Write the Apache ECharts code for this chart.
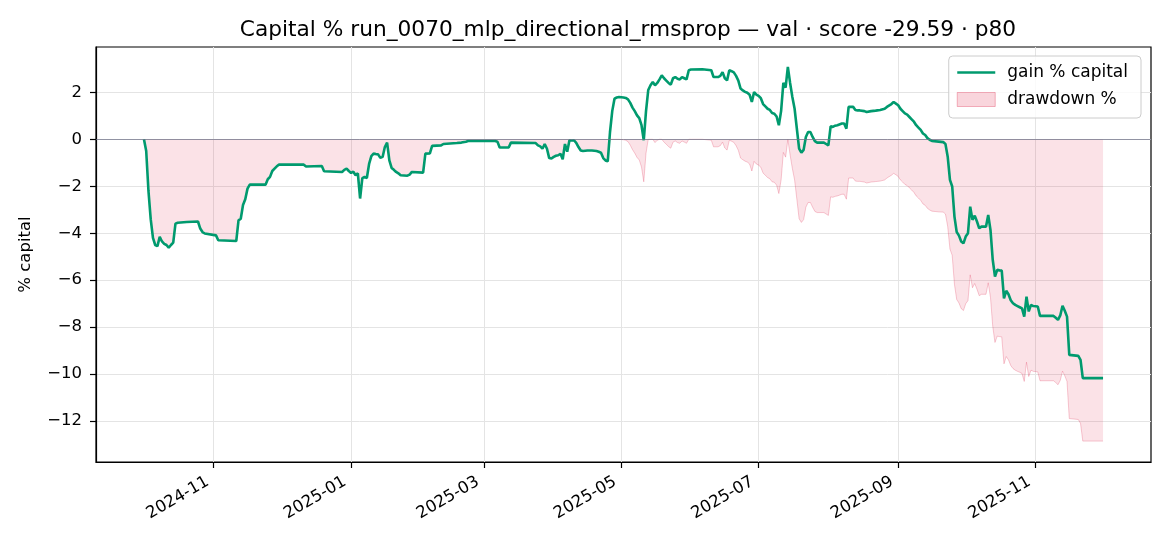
<!DOCTYPE html>
<html>
<head>
<meta charset="utf-8">
<script src="https://cdn.jsdelivr.net/npm/echarts@6/dist/echarts.min.js"></script>
<style>
html,body{margin:0;padding:0;background:#fff;}
#chart{width:1170px;height:546px;}
</style>
</head>
<body>
<div id="chart"></div>
<script>
// ---- data ----
const titleText = 'Capital % run_0070_mlp_directional_rmsprop — val · score -29.59 · p80';
const seriesNames = ['gain % capital', 'drawdown %'];
const yAxisName = '% capital';

const dates = [
'2024-10-01','2024-10-02','2024-10-03','2024-10-04','2024-10-05','2024-10-06','2024-10-07','2024-10-08','2024-10-09','2024-10-10',
'2024-10-11','2024-10-12','2024-10-13','2024-10-14','2024-10-15','2024-10-16','2024-10-20','2024-10-25','2024-10-26','2024-10-27',
'2024-10-28','2024-11-02','2024-11-03','2024-11-11','2024-11-12','2024-11-13','2024-11-14','2024-11-15','2024-11-16','2024-11-17',
'2024-11-24','2024-11-25','2024-11-26','2024-11-27','2024-11-28','2024-11-29','2024-11-30','2024-12-11','2024-12-12','2024-12-19',
'2024-12-20','2024-12-28','2024-12-29','2024-12-30','2024-12-31','2025-01-01','2025-01-02','2025-01-03','2025-01-04','2025-01-05',
'2025-01-06','2025-01-07','2025-01-08','2025-01-09','2025-01-10','2025-01-11','2025-01-12','2025-01-13','2025-01-14','2025-01-15',
'2025-01-16','2025-01-17','2025-01-18','2025-01-19','2025-01-20','2025-01-21','2025-01-22','2025-01-23','2025-01-26','2025-01-27',
'2025-01-28','2025-02-02','2025-02-03','2025-02-05','2025-02-06','2025-02-10','2025-02-11','2025-02-17','2025-02-19','2025-02-21',
'2025-02-22','2025-03-06','2025-03-07','2025-03-08','2025-03-12','2025-03-13','2025-03-24','2025-03-25','2025-03-26','2025-03-27',
'2025-03-28','2025-03-29','2025-03-30','2025-03-31','2025-04-01','2025-04-02','2025-04-03','2025-04-04','2025-04-05','2025-04-06',
'2025-04-07','2025-04-08','2025-04-09','2025-04-10','2025-04-11','2025-04-12','2025-04-13','2025-04-14','2025-04-16','2025-04-18',
'2025-04-20','2025-04-21','2025-04-22','2025-04-23','2025-04-24','2025-04-25','2025-04-26','2025-04-27','2025-04-28','2025-04-29',
'2025-04-30','2025-05-02','2025-05-03','2025-05-04','2025-05-05','2025-05-06','2025-05-07','2025-05-08','2025-05-09','2025-05-10',
'2025-05-11','2025-05-12','2025-05-13','2025-05-14','2025-05-15','2025-05-16','2025-05-17','2025-05-18','2025-05-19','2025-05-20',
'2025-05-21','2025-05-22','2025-05-23','2025-05-24','2025-05-25','2025-05-26','2025-05-27','2025-05-28','2025-05-29','2025-05-30',
'2025-05-31','2025-06-01','2025-06-06','2025-06-10','2025-06-11','2025-06-13','2025-06-14','2025-06-15','2025-06-16','2025-06-17',
'2025-06-18','2025-06-19','2025-06-20','2025-06-21','2025-06-22','2025-06-23','2025-06-24','2025-06-25','2025-06-26','2025-06-27',
'2025-06-28','2025-06-29','2025-06-30','2025-07-01','2025-07-02','2025-07-03','2025-07-04','2025-07-05','2025-07-06','2025-07-07',
'2025-07-08','2025-07-09','2025-07-10','2025-07-11','2025-07-12','2025-07-13','2025-07-14','2025-07-15','2025-07-16','2025-07-17',
'2025-07-18','2025-07-19','2025-07-20','2025-07-21','2025-07-22','2025-07-23','2025-07-24','2025-07-25','2025-07-26','2025-07-27',
'2025-07-30','2025-07-31','2025-08-01','2025-08-02','2025-08-03','2025-08-04','2025-08-05','2025-08-07','2025-08-08','2025-08-09',
'2025-08-10','2025-08-12','2025-08-13','2025-08-14','2025-08-15','2025-08-17','2025-08-18','2025-08-20','2025-08-22','2025-08-24',
'2025-08-26','2025-08-27','2025-08-29','2025-08-30','2025-08-31','2025-09-01','2025-09-02','2025-09-03','2025-09-04','2025-09-05',
'2025-09-06','2025-09-07','2025-09-08','2025-09-09','2025-09-10','2025-09-11','2025-09-12','2025-09-13','2025-09-14','2025-09-15',
'2025-09-16','2025-09-19','2025-09-21','2025-09-22','2025-09-23','2025-09-24','2025-09-25','2025-09-26','2025-09-27','2025-09-28',
'2025-09-29','2025-09-30','2025-10-01','2025-10-02','2025-10-03','2025-10-04','2025-10-05','2025-10-06','2025-10-07','2025-10-08',
'2025-10-10','2025-10-11','2025-10-12','2025-10-13','2025-10-14','2025-10-15','2025-10-16','2025-10-17','2025-10-18','2025-10-19',
'2025-10-20','2025-10-21','2025-10-22','2025-10-23','2025-10-24','2025-10-25','2025-10-26','2025-10-27','2025-10-28','2025-10-29',
'2025-10-30','2025-10-31','2025-11-02','2025-11-03','2025-11-09','2025-11-10','2025-11-11','2025-11-12','2025-11-13','2025-11-14',
'2025-11-15','2025-11-16','2025-11-20','2025-11-21','2025-11-22','2025-12-01'
];

const gain = [
0,-0.5,-2.2,-3.4,-4.2,-4.5,-4.55,-4.15,-4.35,-4.45,
-4.5,-4.62,-4.5,-4.4,-3.59,-3.55,-3.52,-3.5,-3.8,-3.95,
-4.01,-4.09,-4.3,-4.33,-3.45,-3.38,-2.8,-2.55,-2.1,-1.93,
-1.93,-1.7,-1.6,-1.35,-1.25,-1.15,-1.08,-1.08,-1.16,-1.14,
-1.36,-1.39,-1.3,-1.25,-1.35,-1.43,-1.38,-1.53,-1.45,-2.52,
-1.65,-1.6,-1.65,-1.05,-0.72,-0.61,-0.63,-0.64,-0.79,-0.75,
-0.33,-0.14,-0.9,-1.22,-1.3,-1.39,-1.45,-1.53,-1.55,-1.5,
-1.39,-1.42,-0.61,-0.6,-0.28,-0.26,-0.2,-0.16,-0.14,-0.1,
-0.07,-0.07,-0.1,-0.35,-0.35,-0.14,-0.16,-0.26,-0.3,-0.4,
-0.2,-0.4,-0.8,-0.82,-0.75,-0.7,-0.68,-0.62,-0.85,-0.2,
-0.53,-0.04,-0.05,-0.04,-0.15,-0.33,-0.48,-0.5,-0.48,-0.48,
-0.5,-0.53,-0.57,-0.8,-0.9,-0.94,0.3,1.2,1.73,1.78,
1.8,1.78,1.76,1.7,1.55,1.35,1.2,1.02,0.9,0.6,
-0.04,1.2,2.1,2.3,2.44,2.3,2.4,2.55,2.72,2.6,
2.5,2.4,2.33,2.6,2.65,2.58,2.55,2.65,2.6,2.55,
2.94,2.97,2.98,2.94,2.65,2.65,2.7,2.86,2.6,2.51,
2.94,2.9,2.85,2.7,2.5,2.16,2.08,2.02,1.98,1.9,
1.59,2.01,1.9,1.85,1.75,1.5,1.4,1.3,1.25,1.12,
1.09,0.97,0.6,1.2,2.4,2.2,3.08,2.4,1.8,1.3,
0.45,-0.4,-0.57,-0.45,0.1,0.31,0.31,0.1,-0.08,-0.14,
-0.14,-0.2,-0.26,0.55,0.53,0.58,0.6,0.67,0.67,0.45,
1.38,1.38,1.25,1.23,1.23,1.2,1.16,1.2,1.22,1.25,
1.3,1.38,1.5,1.59,1.52,1.45,1.3,1.2,1.1,1.05,
0.95,0.85,0.75,0.6,0.5,0.4,0.25,0.18,0.05,-0.02,
-0.07,-0.1,-0.12,-0.2,-0.74,-1.73,-2.01,-3.29,-3.95,-4.1,
-4.35,-4.43,-4.14,-4.0,-2.87,-3.43,-3.25,-3.5,-3.79,-3.72,
-3.72,-3.22,-3.86,-5.13,-5.84,-5.56,-5.58,-5.59,-6.77,-6.45,
-6.6,-6.85,-6.98,-7.05,-7.1,-7.15,-7.2,-7.55,-6.7,-7.33,
-7.05,-7.1,-7.12,-7.52,-7.52,-7.6,-7.69,-7.5,-7.09,-7.3,
-7.55,-9.18,-9.22,-9.39,-10.17,-10.17
];

const drawdown = [
0,-0.5,-2.2,-3.4,-4.2,-4.5,-4.55,-4.15,-4.35,-4.45,
-4.5,-4.62,-4.5,-4.4,-3.59,-3.55,-3.52,-3.5,-3.8,-3.95,
-4.01,-4.09,-4.3,-4.33,-3.45,-3.38,-2.8,-2.55,-2.1,-1.93,
-1.93,-1.7,-1.6,-1.35,-1.25,-1.15,-1.08,-1.08,-1.16,-1.14,
-1.36,-1.39,-1.3,-1.25,-1.35,-1.43,-1.38,-1.53,-1.45,-2.52,
-1.65,-1.6,-1.65,-1.05,-0.72,-0.61,-0.63,-0.64,-0.79,-0.75,
-0.33,-0.14,-0.9,-1.22,-1.3,-1.39,-1.45,-1.53,-1.55,-1.5,
-1.39,-1.42,-0.61,-0.6,-0.28,-0.26,-0.2,-0.16,-0.14,-0.1,
-0.07,-0.07,-0.1,-0.35,-0.35,-0.14,-0.16,-0.26,-0.3,-0.4,
-0.2,-0.4,-0.8,-0.82,-0.75,-0.7,-0.68,-0.62,-0.85,-0.2,
-0.53,-0.04,-0.05,-0.04,-0.15,-0.33,-0.48,-0.5,-0.48,-0.48,
-0.5,-0.53,-0.57,-0.8,-0.9,-0.94,0,0,0,0,
0,-0.02,-0.04,-0.1,-0.25,-0.44,-0.59,-0.77,-0.88,-1.18,
-1.81,-0.59,0,0,0,-0.14,-0.04,0,0,-0.12,
-0.21,-0.31,-0.38,-0.12,-0.07,-0.14,-0.17,-0.07,-0.12,-0.17,
0,0,0,-0.04,-0.32,-0.32,-0.27,-0.12,-0.37,-0.46,
-0.04,-0.08,-0.13,-0.27,-0.47,-0.8,-0.87,-0.93,-0.97,-1.05,
-1.35,-0.94,-1.05,-1.1,-1.19,-1.44,-1.53,-1.63,-1.68,-1.81,
-1.83,-1.95,-2.31,-1.73,-0.56,-0.76,0,-0.66,-1.24,-1.73,
-2.55,-3.38,-3.54,-3.42,-2.89,-2.69,-2.69,-2.89,-3.07,-3.12,
-3.12,-3.18,-3.24,-2.45,-2.47,-2.43,-2.41,-2.34,-2.34,-2.55,
-1.65,-1.65,-1.78,-1.79,-1.79,-1.82,-1.86,-1.82,-1.8,-1.78,
-1.73,-1.65,-1.53,-1.45,-1.51,-1.58,-1.73,-1.82,-1.92,-1.97,
-2.07,-2.16,-2.26,-2.41,-2.5,-2.6,-2.75,-2.81,-2.94,-3.01,
-3.06,-3.09,-3.1,-3.18,-3.71,-4.67,-4.94,-6.18,-6.82,-6.97,
-7.21,-7.29,-7.0,-6.87,-5.77,-6.32,-6.14,-6.38,-6.66,-6.6,
-6.6,-6.11,-6.73,-7.96,-8.65,-8.38,-8.4,-8.41,-9.56,-9.25,
-9.39,-9.63,-9.76,-9.83,-9.88,-9.92,-9.97,-10.31,-9.49,-10.1,
-9.83,-9.88,-9.9,-10.28,-10.28,-10.36,-10.45,-10.26,-9.87,-10.07,
-10.31,-11.89,-11.93,-12.1,-12.85,-12.85
];

const xTickDates = ['2024-11-01','2025-01-01','2025-03-01','2025-05-01','2025-07-01','2025-09-01','2025-11-01'];
const xTickLabels = ['2024-11','2025-01','2025-03','2025-05','2025-07','2025-09','2025-11'];
const yTicks = [-12, -10, -8, -6, -4, -2, 0, 2];
const yRange = [-13.74, 3.93];

// ---- chart ----
const FONT = 'DejaVu Sans';
const LINE_COLOR = '#009A6E';
function ts(s) { return new Date(s + 'T00:00:00').getTime(); }
const xTickValues = xTickDates.map(ts);
const gainData = dates.map((d, i) => [ts(d), gain[i]]);
const ddData = dates.map((d, i) => [ts(d), drawdown[i]]);
const tMin = ts(dates[0]), tMax = ts(dates[dates.length - 1]);
const tPad = 0.05 * (tMax - tMin);

const chart = echarts.init(document.getElementById('chart'), null, { renderer: 'canvas' });
const axisLineStyle = { color: '#000', width: 1.2 };
const gridLineStyle = { color: '#e4e4e4', width: 1 };

chart.setOption({
  animation: false,
  backgroundColor: '#ffffff',
  title: {
    text: titleText, left: 623, top: 14, textAlign: 'center',
    textStyle: { fontFamily: FONT, fontSize: 21.7, fontWeight: 'normal', color: '#000' }
  },
  legend: {
    right: 29, top: 56, orient: 'vertical',
    itemWidth: 38, itemHeight: 14, itemGap: 10,
    padding: [8, 13, 10, 8],
    backgroundColor: 'rgba(255,255,255,0.8)', borderColor: '#cccccc', borderWidth: 1, borderRadius: 4,
    textStyle: { fontFamily: FONT, fontSize: 17, color: '#000', padding: [0, 0, 0, 7] },
    data: [
      { name: seriesNames[0], icon: 'path://M0,0L38,0L38,2.6L0,2.6Z',
        itemStyle: { color: LINE_COLOR, borderWidth: 0 } },
      { name: seriesNames[1], icon: 'rect',
        itemStyle: { color: 'rgba(220,20,60,0.18)', borderColor: 'rgba(220,20,60,0.3)', borderWidth: 1 } }
    ]
  },
  grid: {
    left: 96, top: 47, width: 1055, height: 415,
    show: true, borderColor: '#000', borderWidth: 1.2, backgroundColor: 'transparent',
    containLabel: false, outerBoundsMode: 'none'
  },
  xAxis: {
    type: 'value',
    min: tMin - tPad,
    max: tMax + tPad,
    axisLine: { show: true, onZero: false, lineStyle: axisLineStyle },
    axisTick: { show: true, customValues: xTickValues, length: 6, lineStyle: axisLineStyle },
    axisLabel: {
      customValues: xTickValues, rotate: 30, margin: 15, padding: [0, 7, 0, 0],
      fontFamily: FONT, fontSize: 16.5, color: '#000',
      formatter: function (v) {
        const i = xTickValues.indexOf(+v);
        if (i >= 0) return xTickLabels[i];
        const d = new Date(v);
        return d.getFullYear() + '-' + String(d.getMonth() + 1).padStart(2, '0');
      }
    },
    splitLine: { show: true, lineStyle: gridLineStyle }
  },
  yAxis: {
    type: 'value', min: yRange[0], max: yRange[1],
    name: yAxisName, nameLocation: 'middle', nameRotate: 90, nameGap: 62,
    nameTextStyle: { fontFamily: FONT, fontSize: 16.5, color: '#000' },
    axisLine: { show: true, lineStyle: axisLineStyle },
    axisTick: { show: true, customValues: yTicks, length: 6, lineStyle: axisLineStyle },
    axisLabel: {
      customValues: yTicks, margin: 14, fontFamily: FONT, fontSize: 16.5, color: '#000',
      formatter: v => String(v).replace('-', '\u2212')
    },
    splitLine: { show: true, lineStyle: gridLineStyle }
  },
  series: [
    {
      name: seriesNames[1], type: 'line', data: ddData, symbol: 'none', z: 1,
      lineStyle: { color: 'rgba(220,20,60,0.22)', width: 1 },
      itemStyle: { color: 'rgba(220,20,60,0.18)' },
      areaStyle: { color: 'rgba(220,20,60,0.18)', origin: 0 },
      markLine: {
        silent: true, symbol: ['none', 'none'], label: { show: false },
        lineStyle: { color: 'rgba(110,112,135,0.7)', width: 1, type: 'solid' },
        data: [{ yAxis: 0 }]
      }
    },
    {
      name: seriesNames[0], type: 'line', data: gainData, symbol: 'none', z: 3,
      lineStyle: { color: LINE_COLOR, width: 2.6 },
      itemStyle: { color: LINE_COLOR }
    }
  ]
});
</script>
</body>
</html>
